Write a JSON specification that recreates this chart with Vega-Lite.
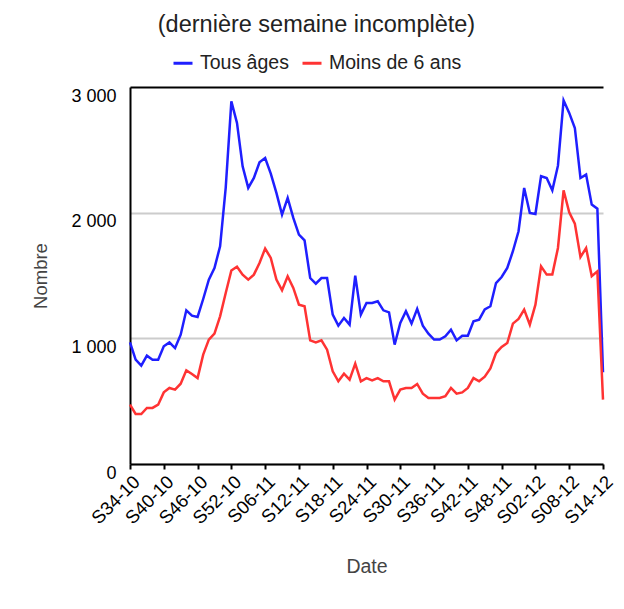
{
  "$schema": "https://vega.github.io/schema/vega-lite/v6.json",
  "width": 473,
  "height": 377,
  "autosize": {"type": "none"},
  "padding": {"left": 130, "top": 87, "right": 21, "bottom": 145},
  "background": "white",
  "config": {"font": "Liberation Sans", "view": {"stroke": null}},
  "title": {
    "text": "(dernière semaine incomplète)",
    "fontSize": 23.5,
    "fontWeight": "normal",
    "color": "#222222",
    "anchor": "middle",
    "frame": "group",
    "dx": -50,
    "offset": 16
  },
  "data": {
    "values": [
      {"semaine": "2010-08-23", "Tous âges": 968, "Moins de 6 ans": 472},
      {"semaine": "2010-08-30", "Tous âges": 830, "Moins de 6 ans": 398},
      {"semaine": "2010-09-06", "Tous âges": 783, "Moins de 6 ans": 398},
      {"semaine": "2010-09-13", "Tous âges": 862, "Moins de 6 ans": 446},
      {"semaine": "2010-09-20", "Tous âges": 830, "Moins de 6 ans": 446},
      {"semaine": "2010-09-27", "Tous âges": 830, "Moins de 6 ans": 472},
      {"semaine": "2010-10-04", "Tous âges": 937, "Moins de 6 ans": 570},
      {"semaine": "2010-10-11", "Tous âges": 968, "Moins de 6 ans": 605},
      {"semaine": "2010-10-18", "Tous âges": 923, "Moins de 6 ans": 592},
      {"semaine": "2010-10-25", "Tous âges": 1029, "Moins de 6 ans": 639},
      {"semaine": "2010-11-01", "Tous âges": 1223, "Moins de 6 ans": 745},
      {"semaine": "2010-11-08", "Tous âges": 1180, "Moins de 6 ans": 716},
      {"semaine": "2010-11-15", "Tous âges": 1170, "Moins de 6 ans": 684},
      {"semaine": "2010-11-22", "Tous âges": 1313, "Moins de 6 ans": 870},
      {"semaine": "2010-11-29", "Tous âges": 1467, "Moins de 6 ans": 990},
      {"semaine": "2010-12-06", "Tous âges": 1560, "Moins de 6 ans": 1037},
      {"semaine": "2010-12-13", "Tous âges": 1732, "Moins de 6 ans": 1175},
      {"semaine": "2010-12-20", "Tous âges": 2200, "Moins de 6 ans": 1361},
      {"semaine": "2010-12-27", "Tous âges": 2886, "Moins de 6 ans": 1540},
      {"semaine": "2011-01-03", "Tous âges": 2714, "Moins de 6 ans": 1570},
      {"semaine": "2011-01-10", "Tous âges": 2369, "Moins de 6 ans": 1507},
      {"semaine": "2011-01-17", "Tous âges": 2197, "Moins de 6 ans": 1467},
      {"semaine": "2011-01-24", "Tous âges": 2276, "Moins de 6 ans": 1507},
      {"semaine": "2011-01-31", "Tous âges": 2401, "Moins de 6 ans": 1600},
      {"semaine": "2011-02-07", "Tous âges": 2435, "Moins de 6 ans": 1714},
      {"semaine": "2011-02-14", "Tous âges": 2311, "Moins de 6 ans": 1640},
      {"semaine": "2011-02-21", "Tous âges": 2157, "Moins de 6 ans": 1467},
      {"semaine": "2011-02-28", "Tous âges": 1984, "Moins de 6 ans": 1382},
      {"semaine": "2011-03-07", "Tous âges": 2117, "Moins de 6 ans": 1494},
      {"semaine": "2011-03-14", "Tous âges": 1958, "Moins de 6 ans": 1401},
      {"semaine": "2011-03-21", "Tous âges": 1825, "Moins de 6 ans": 1268},
      {"semaine": "2011-03-28", "Tous âges": 1780, "Moins de 6 ans": 1255},
      {"semaine": "2011-04-04", "Tous âges": 1480, "Moins de 6 ans": 984},
      {"semaine": "2011-04-11", "Tous âges": 1435, "Moins de 6 ans": 968},
      {"semaine": "2011-04-18", "Tous âges": 1480, "Moins de 6 ans": 984},
      {"semaine": "2011-04-25", "Tous âges": 1480, "Moins de 6 ans": 910},
      {"semaine": "2011-05-02", "Tous âges": 1189, "Moins de 6 ans": 737},
      {"semaine": "2011-05-09", "Tous âges": 1101, "Moins de 6 ans": 658},
      {"semaine": "2011-05-16", "Tous âges": 1162, "Moins de 6 ans": 719},
      {"semaine": "2011-05-23", "Tous âges": 1109, "Moins de 6 ans": 671},
      {"semaine": "2011-05-30", "Tous âges": 1499, "Moins de 6 ans": 799},
      {"semaine": "2011-06-06", "Tous âges": 1189, "Moins de 6 ans": 658},
      {"semaine": "2011-06-13", "Tous âges": 1281, "Moins de 6 ans": 684},
      {"semaine": "2011-06-20", "Tous âges": 1281, "Moins de 6 ans": 666},
      {"semaine": "2011-06-27", "Tous âges": 1295, "Moins de 6 ans": 684},
      {"semaine": "2011-07-04", "Tous âges": 1223, "Moins de 6 ans": 658},
      {"semaine": "2011-07-11", "Tous âges": 1207, "Moins de 6 ans": 658},
      {"semaine": "2011-07-18", "Tous âges": 950, "Moins de 6 ans": 512},
      {"semaine": "2011-07-25", "Tous âges": 1122, "Moins de 6 ans": 592},
      {"semaine": "2011-08-01", "Tous âges": 1215, "Moins de 6 ans": 605},
      {"semaine": "2011-08-08", "Tous âges": 1117, "Moins de 6 ans": 605},
      {"semaine": "2011-08-15", "Tous âges": 1234, "Moins de 6 ans": 637},
      {"semaine": "2011-08-22", "Tous âges": 1101, "Moins de 6 ans": 560},
      {"semaine": "2011-08-29", "Tous âges": 1037, "Moins de 6 ans": 525},
      {"semaine": "2011-09-05", "Tous âges": 990, "Moins de 6 ans": 525},
      {"semaine": "2011-09-12", "Tous âges": 990, "Moins de 6 ans": 525},
      {"semaine": "2011-09-19", "Tous âges": 1016, "Moins de 6 ans": 539},
      {"semaine": "2011-09-26", "Tous âges": 1069, "Moins de 6 ans": 605},
      {"semaine": "2011-10-03", "Tous âges": 984, "Moins de 6 ans": 560},
      {"semaine": "2011-10-10", "Tous âges": 1021, "Moins de 6 ans": 570},
      {"semaine": "2011-10-17", "Tous âges": 1021, "Moins de 6 ans": 605},
      {"semaine": "2011-10-24", "Tous âges": 1135, "Moins de 6 ans": 684},
      {"semaine": "2011-10-31", "Tous âges": 1149, "Moins de 6 ans": 658},
      {"semaine": "2011-11-07", "Tous âges": 1230, "Moins de 6 ans": 695},
      {"semaine": "2011-11-14", "Tous âges": 1255, "Moins de 6 ans": 760},
      {"semaine": "2011-11-21", "Tous âges": 1440, "Moins de 6 ans": 883},
      {"semaine": "2011-11-28", "Tous âges": 1488, "Moins de 6 ans": 931},
      {"semaine": "2011-12-05", "Tous âges": 1560, "Moins de 6 ans": 963},
      {"semaine": "2011-12-12", "Tous âges": 1693, "Moins de 6 ans": 1117},
      {"semaine": "2011-12-19", "Tous âges": 1852, "Moins de 6 ans": 1154},
      {"semaine": "2011-12-26", "Tous âges": 2197, "Moins de 6 ans": 1228},
      {"semaine": "2012-01-02", "Tous âges": 1998, "Moins de 6 ans": 1109},
      {"semaine": "2012-01-09", "Tous âges": 1990, "Moins de 6 ans": 1268},
      {"semaine": "2012-01-16", "Tous âges": 2290, "Moins de 6 ans": 1573},
      {"semaine": "2012-01-23", "Tous âges": 2276, "Moins de 6 ans": 1507},
      {"semaine": "2012-01-30", "Tous âges": 2178, "Moins de 6 ans": 1507},
      {"semaine": "2012-02-06", "Tous âges": 2374, "Moins de 6 ans": 1719},
      {"semaine": "2012-02-13", "Tous âges": 2894, "Moins de 6 ans": 2178},
      {"semaine": "2012-02-20", "Tous âges": 2794, "Moins de 6 ans": 2003},
      {"semaine": "2012-02-27", "Tous âges": 2674, "Moins de 6 ans": 1913},
      {"semaine": "2012-03-05", "Tous âges": 2276, "Moins de 6 ans": 1647},
      {"semaine": "2012-03-12", "Tous âges": 2303, "Moins de 6 ans": 1719},
      {"semaine": "2012-03-19", "Tous âges": 2064, "Moins de 6 ans": 1494},
      {"semaine": "2012-03-26", "Tous âges": 2032, "Moins de 6 ans": 1533},
      {"semaine": "2012-04-02", "Tous âges": 730, "Moins de 6 ans": 512}
    ]
  },
  "transform": [{"fold": ["Tous âges", "Moins de 6 ans"], "as": ["serie", "nombre"]}],
  "mark": {"type": "line", "strokeWidth": 2.5},
  "encoding": {
    "x": {
      "field": "semaine",
      "type": "temporal",
      "scale": {"type": "utc", "nice": false},
      "axis": {
        "values": [
          {"year": 2010, "month": 8, "date": 23, "utc": true},
          {"year": 2010, "month": 10, "date": 4, "utc": true},
          {"year": 2010, "month": 11, "date": 15, "utc": true},
          {"year": 2010, "month": 12, "date": 27, "utc": true},
          {"year": 2011, "month": 2, "date": 7, "utc": true},
          {"year": 2011, "month": 3, "date": 21, "utc": true},
          {"year": 2011, "month": 5, "date": 2, "utc": true},
          {"year": 2011, "month": 6, "date": 13, "utc": true},
          {"year": 2011, "month": 7, "date": 25, "utc": true},
          {"year": 2011, "month": 9, "date": 5, "utc": true},
          {"year": 2011, "month": 10, "date": 17, "utc": true},
          {"year": 2011, "month": 11, "date": 28, "utc": true},
          {"year": 2012, "month": 1, "date": 9, "utc": true},
          {"year": 2012, "month": 2, "date": 20, "utc": true},
          {"year": 2012, "month": 4, "date": 2, "utc": true}
        ],
        "labelExpr": "'S' + utcFormat(datum.value, '%V-%y')",
        "labelAngle": -45,
        "labelOverlap": false,
        "labelBound": false,
        "labelFlush": false,
        "labelFontSize": 18.5,
        "labelColor": "black",
        "labelPadding": 3,
        "domainColor": "black",
        "domainWidth": 2,
        "tickColor": "black",
        "tickWidth": 2,
        "tickSize": 5,
        "grid": false,
        "title": "Date",
        "titleFontSize": 19.5,
        "titleFontWeight": "normal",
        "titleColor": "#444444",
        "titlePadding": 30
      }
    },
    "y": {
      "field": "nombre",
      "type": "quantitative",
      "scale": {"domain": [0, 3000]},
      "axis": {
        "values": [0, 1000, 2000, 3000],
        "labelExpr": "replace(format(datum.value, ','), ',', ' ')",
        "labelFontSize": 18,
        "labelColor": "black",
        "labelPadding": 14,
        "labelBaseline": "top",
        "ticks": false,
        "domainColor": "black",
        "domainWidth": 2,
        "grid": true,
        "gridColor": {"condition": {"test": "datum.value === 3000", "value": "black"}, "value": "#cccccc"},
        "gridWidth": 2,
        "title": "Nombre",
        "titleFontSize": 18.5,
        "titleFontWeight": "normal",
        "titleColor": "#444444",
        "titlePadding": 20
      }
    },
    "color": {
      "field": "serie",
      "type": "nominal",
      "scale": {"domain": ["Tous âges", "Moins de 6 ans"], "range": ["#1f1fff", "#ff3333"]},
      "legend": {
        "orient": "none",
        "legendX": 42,
        "legendY": -35,
        "direction": "horizontal",
        "title": null,
        "symbolType": "stroke",
        "symbolStrokeWidth": 3,
        "symbolSize": 361,
        "labelFontSize": 19.5,
        "labelColor": "#222222",
        "labelOffset": 6,
        "columnPadding": 7
      }
    }
  }
}
